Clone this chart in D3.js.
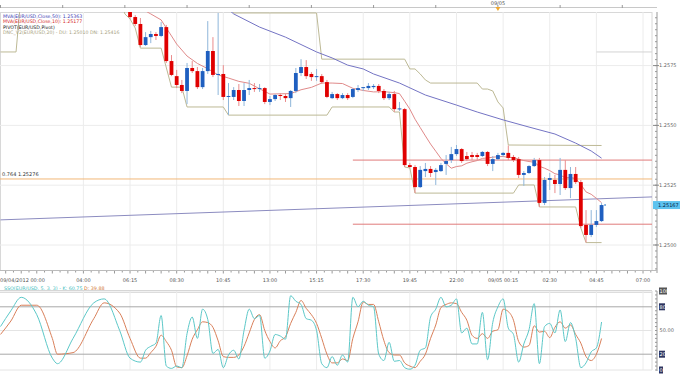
<!DOCTYPE html>
<html><head><meta charset="utf-8">
<script src="https://cdn.jsdelivr.net/npm/d3@7"></script>
<style>html,body{margin:0;padding:0;background:#fff;}svg{display:block;font-family:"DejaVu Sans",sans-serif;}</style>
</head><body><svg id="c" width="680" height="374"></svg>
<script>
// ---------- DATA ----------
const barStart = "2012-09-04T06:15:00Z";
const barMinutes = 15;
const opens  = [1.25991,1.25953,1.25924,1.25836,1.25869,1.25882,1.25874,1.25911,1.25769,1.25706,1.25669,1.25644,1.25740,1.25727,1.25660,1.25727,1.25811,1.25711,1.25715,1.25619,1.25619,1.25648,1.25602,1.25648,1.25656,1.25652,1.25656,1.25598,1.25610,1.25627,1.25623,1.25614,1.25644,1.25719,1.25744,1.25715,1.25702,1.25706,1.25681,1.25614,1.25631,1.25614,1.25627,1.25619,1.25648,1.25656,1.25656,1.25660,1.25665,1.25644,1.25614,1.25631,1.25568,1.25568,1.25334,1.25326,1.25242,1.25309,1.25318,1.25305,1.25309,1.25339,1.25355,1.25380,1.25401,1.25372,1.25376,1.25376,1.25372,1.25389,1.25339,1.25359,1.25376,1.25385,1.25368,1.25359,1.25293,1.25301,1.25330,1.25355,1.25176,1.25272,1.25272,1.25255,1.25314,1.25238,1.25297,1.25263,1.25084,1.25042,1.25084,1.25100];
const highs  = [1.26007,1.25961,1.25949,1.25890,1.25895,1.25890,1.25932,1.25920,1.25794,1.25732,1.25690,1.25761,1.25769,1.25744,1.25740,1.25936,1.25869,1.25970,1.25752,1.25677,1.25660,1.25673,1.25677,1.25690,1.25677,1.25673,1.25660,1.25623,1.25631,1.25635,1.25631,1.25648,1.25740,1.25777,1.25773,1.25723,1.25736,1.25715,1.25690,1.25640,1.25635,1.25635,1.25635,1.25656,1.25669,1.25660,1.25677,1.25673,1.25673,1.25652,1.25640,1.25644,1.25598,1.25573,1.25343,1.25334,1.25330,1.25343,1.25330,1.25322,1.25343,1.25376,1.25410,1.25418,1.25405,1.25389,1.25389,1.25385,1.25393,1.25393,1.25372,1.25385,1.25389,1.25416,1.25376,1.25368,1.25309,1.25334,1.25364,1.25364,1.25284,1.25301,1.25293,1.25364,1.25355,1.25326,1.25326,1.25272,1.25146,1.25146,1.25146,1.25176];
const lows   = [1.25945,1.25915,1.25828,1.25832,1.25844,1.25857,1.25869,1.25761,1.25706,1.25656,1.25635,1.25589,1.25719,1.25652,1.25652,1.25715,1.25702,1.25627,1.25606,1.25543,1.25606,1.25581,1.25581,1.25627,1.25640,1.25640,1.25589,1.25585,1.25602,1.25606,1.25598,1.25577,1.25635,1.25706,1.25694,1.25686,1.25686,1.25673,1.25614,1.25610,1.25606,1.25610,1.25606,1.25614,1.25640,1.25644,1.25648,1.25652,1.25635,1.25606,1.25606,1.25556,1.25560,1.25326,1.25322,1.25217,1.25238,1.25284,1.25284,1.25251,1.25305,1.25293,1.25343,1.25372,1.25343,1.25351,1.25355,1.25355,1.25368,1.25330,1.25309,1.25355,1.25368,1.25355,1.25347,1.25280,1.25247,1.25297,1.25326,1.25159,1.25167,1.25230,1.25217,1.25209,1.25230,1.25196,1.25255,1.25071,1.25010,1.25033,1.25075,1.25096];
const closes = [1.25953,1.25924,1.25836,1.25869,1.25882,1.25874,1.25911,1.25769,1.25711,1.25669,1.25644,1.25740,1.25727,1.25660,1.25727,1.25811,1.25711,1.25715,1.25619,1.25623,1.25648,1.25602,1.25648,1.25656,1.25652,1.25656,1.25598,1.25610,1.25627,1.25623,1.25614,1.25644,1.25719,1.25744,1.25706,1.25702,1.25706,1.25681,1.25619,1.25631,1.25614,1.25627,1.25614,1.25652,1.25656,1.25660,1.25665,1.25665,1.25644,1.25614,1.25631,1.25568,1.25571,1.25334,1.25326,1.25242,1.25314,1.25318,1.25301,1.25314,1.25334,1.25351,1.25380,1.25401,1.25351,1.25359,1.25368,1.25368,1.25389,1.25339,1.25359,1.25376,1.25385,1.25364,1.25355,1.25293,1.25301,1.25330,1.25355,1.25176,1.25272,1.25280,1.25255,1.25314,1.25238,1.25297,1.25263,1.25079,1.25042,1.25084,1.25100,1.25167];

// indicator lines: [bar index, value]
const ma10 = [[2,1.26016],[3,1.25978],[4,1.25966],[6,1.25941],[7,1.25907],[8,1.25874],[9,1.25840],[11,1.25790],[13,1.25759],[15,1.25737],[17,1.25711],[19,1.25698],[21,1.25684],[23,1.25676],[25,1.25653],[27,1.25631],[29,1.25632],[31,1.25633],[33,1.25649],[35,1.25659],[37,1.25677],[39,1.25677],[41,1.25675],[43,1.25655],[45,1.25646],[47,1.25640],[49,1.25641],[51,1.25637],[52,1.25633],[53,1.25601],[54,1.25568],[55,1.25526],[56,1.25491],[57,1.25456],[58,1.25422],[59,1.25392],[60,1.25362],[61,1.25340],[62,1.25321],[63,1.25328],[64,1.25331],[65,1.25342],[66,1.25348],[67,1.25353],[68,1.25362],[69,1.25364],[70,1.25367],[71,1.25369],[72,1.25370],[73,1.25366],[74,1.25366],[75,1.25359],[76,1.25353],[77,1.25349],[78,1.25346],[79,1.25329],[80,1.25321],[81,1.25311],[82,1.25298],[83,1.25293],[84,1.25281],[85,1.25282],[86,1.25278],[87,1.25253],[88,1.25222],[89,1.25212],[90,1.25195],[91,1.25177]];
const ma50 = [[18,1.26003],[20,1.25966],[25,1.25911],[30,1.25869],[36,1.25807],[39,1.25782],[42,1.25752],[45,1.25736],[47,1.25715],[52,1.25677],[57,1.25627],[63,1.25585],[67,1.25556],[72,1.25523],[77,1.25493],[82,1.25464],[86,1.25426],[89,1.25393],[91,1.25363]];
const dncUpper = [[19,1.26007],[20,1.25970],[36,1.25970],[37,1.25777],[53,1.25777],[54,1.25736],[55,1.25736],[56,1.25715],[57,1.25690],[58,1.25677],[67,1.25677],[68,1.25652],[69,1.25652],[70,1.25644],[71,1.25598],[72,1.25573],[73,1.25418],[91,1.25416]];
const dncLowerEarly = [[-25,1.25807],[-22,1.25807],[-21,1.26050]];
const dncLower = [[-2,1.26050],[-1,1.25966],[0,1.25945],[1,1.25907],[2,1.25823],[6,1.25823],[8,1.25660],[10,1.25660],[11,1.25577],[18,1.25577],[19,1.25543],[38,1.25543],[39,1.25577],[50,1.25577],[51,1.25556],[52,1.25556],[53,1.25326],[54,1.25322],[55,1.25217],[74,1.25217],[75,1.25251],[78,1.25251],[79,1.25159],[86,1.25159],[87,1.25071],[88,1.25010],[91,1.25010]];
const trendTimes = ["2012-09-04T00:00:00Z","2012-09-05T07:26:00Z"];
const trendValues = [1.25105, 1.25201];
const pivotStart = "2012-09-04T17:00:00Z";
const pivotLevels = [1.25355, 1.25087];
const fibRatio = "0.764";
const fibPrice = 1.25276;
const upperRefStart = "2012-09-05T04:45:00Z";
const upperRefPrice = 1.25807;
const priceTicks = [1.2500, 1.2525, 1.2550, 1.2575];
const lastPrice = 1.25167;
const tickTimes = ["2012-09-04T00:00:00Z","2012-09-04T04:00:00Z","2012-09-04T06:15:00Z","2012-09-04T08:30:00Z","2012-09-04T10:45:00Z","2012-09-04T13:00:00Z","2012-09-04T15:15:00Z","2012-09-04T17:30:00Z","2012-09-04T19:45:00Z","2012-09-04T22:00:00Z","2012-09-05T00:15:00Z","2012-09-05T02:30:00Z","2012-09-05T04:45:00Z","2012-09-05T07:00:00Z"];
const tickLabels = ["09/04/2012 00:00","04:00","06:15","08:30","10:45","13:00","15:15","17:30","19:45","22:00","09/05 00:15","02:30","04:45","07:00"];
const dayMarkTime = "2012-09-05T00:00:00Z";
const dayMarkLabel = "09/05";
// stochastic (5,3,3): bar index, %K, %D
const stochIdx = [-25,-23,-21,-18,-15,-14,-11,-7,-5,-2,0,2,3,4,5,6,7,8,9,10,11,12,13,14,15,16,17,18,19,20,21,22,23,24,25,26,27,28,29,30,31,32,33,34,35,36,37,38,39,40,41,42,43,44,45,46,47,48,49,50,51,52,53,54,55,56,57,58,59,60,61,62,63,64,65,66,67,68,69,70,71,72,73,74,75,76,77,78,79,80,81,82,83,84,85,86,87,88,89,90,91];
const stochK = [55,75,92,70,15,8,40,85,90,50,15,10,25,30,34,69,5,2,5,3,46,67,40,77,64,21,26,3,19,25,14,50,77,65,69,15,24,45,43,39,94,87,83,65,63,50,8,3,17,6,19,10,92,80,87,82,80,20,12,35,11,12,3,1,6,25,28,67,77,92,80,82,90,47,53,33,33,73,13,60,80,90,53,45,10,33,51,84,8,55,59,47,76,36,60,40,3,9,23,28,60.75];
const stochD = [45,62,82,82,40,20,22,65,85,72,40,15,15,22,30,44,36,25,4,3,18,39,51,61,60,54,37,17,16,16,19,30,47,64,70,50,36,28,37,42,59,73,88,78,70,59,40,20,9,9,14,12,40,61,86,83,83,61,37,22,19,19,9,5,3,11,20,40,57,79,83,85,84,73,63,44,40,46,40,49,51,77,74,63,36,29,31,56,48,49,41,54,61,53,57,45,34,17,12,20,39.88];
const stochTicks = [0, 20, 50, 80, 100];

// ---------- CHART ----------
const svg = d3.select("#c");
const W = 680, plotR = 652, axisX = 657, pTop = 12, pBot = 270;
const sTop = 291, sBot = 370;
const x = d3.scaleUtc().domain([new Date("2012-09-04T00:00:00Z"), new Date("2012-09-05T07:26:00Z")]).range([0.5, plotR]);
const y = d3.scaleLinear().domain([1.2500, 1.2575]).range([245, 65.6]);
const ys = d3.scaleLinear().domain([0, 100]).range([sBot, sTop]);
const t0 = new Date(barStart).getTime();
const barTime = i => new Date(t0 + i * barMinutes * 60000);

const defs = svg.append("defs");
defs.append("clipPath").attr("id","mainClip").append("rect").attr("x",0).attr("y",pTop).attr("width",plotR).attr("height",pBot-pTop);
defs.append("clipPath").attr("id","stClip").append("rect").attr("x",0).attr("y",sTop).attr("width",plotR).attr("height",sBot-sTop);

// top strip
svg.append("line").attr("x1",0).attr("x2",axisX).attr("y1",7.5).attr("y2",7.5).attr("stroke","#c8c8c8");
const topTicks = d3.utcHour.every(3).range(x.domain()[0], x.domain()[1]);
svg.append("g").selectAll("line").data(topTicks).join("line")
  .attr("x1",d=>x(d)).attr("x2",d=>x(d)).attr("y1",5).attr("y2",8).attr("stroke","#999");
svg.append("text").attr("x",x(new Date(dayMarkTime))).attr("y",4.5).attr("text-anchor","middle")
  .attr("font-size",5).attr("fill","#555").text(dayMarkLabel);
const dmx = x(new Date(dayMarkTime));
svg.append("path").attr("d",`M${dmx-2.5},7 L${dmx+2.5},7 L${dmx},11 Z`).attr("fill","#f0a830");

svg.append("rect").attr("x",0.5).attr("y",pTop+0.5).attr("width",plotR-0.5).attr("height",pBot-pTop).attr("fill","none").attr("stroke","#d8d8d8");

// grid
const gridTimes = tickTimes.slice(1).map(d=>new Date(d));
svg.append("g").selectAll("line").data(gridTimes).join("line")
  .attr("x1",d=>x(d)).attr("x2",d=>x(d)).attr("y1",pTop).attr("y2",pBot).attr("stroke","#ececec");
svg.append("g").selectAll("line").data(priceTicks).join("line")
  .attr("x1",0).attr("x2",plotR).attr("y1",d=>y(d)).attr("y2",d=>y(d)).attr("stroke","#ececec");

const main = svg.append("g").attr("clip-path","url(#mainClip)");
main.append("line").attr("x1",0).attr("x2",plotR).attr("y1",y(fibPrice)).attr("y2",y(fibPrice)).attr("stroke","#f2b878").attr("stroke-width",1);
main.selectAll(".pv").data(pivotLevels).join("line").attr("class","pv")
  .attr("x1",x(new Date(pivotStart))).attr("x2",plotR).attr("y1",d=>y(d)).attr("y2",d=>y(d)).attr("stroke","#e07a7a");
main.append("line").attr("x1",x(new Date(upperRefStart))).attr("x2",plotR).attr("y1",y(upperRefPrice)).attr("y2",y(upperRefPrice)).attr("stroke","#d4d4d4");
main.append("line").attr("x1",x(new Date(trendTimes[0]))).attr("x2",x(new Date(trendTimes[1])))
  .attr("y1",y(trendValues[0])).attr("y2",y(trendValues[1])).attr("stroke","#8c8cc0").attr("stroke-width",1);

const lineGen = d3.line().x(d=>x(barTime(d[0]))).y(d=>y(d[1]));
[dncUpper, dncLower, dncLowerEarly].forEach(arr=>
  main.append("path").attr("d",lineGen(arr)).attr("fill","none").attr("stroke","#bdb995").attr("stroke-width",1));
main.append("path").attr("d",lineGen(ma50)).attr("fill","none").attr("stroke","#7474c4").attr("stroke-width",1);
main.append("path").attr("d",lineGen(ma10)).attr("fill","none").attr("stroke","#e08a8a").attr("stroke-width",1);

// candles
const candles = opens.map((o,i)=>({i,o,h:highs[i],l:lows[i],c:closes[i]}));
const cg = main.append("g");
cg.selectAll(".wk").data(candles).join("line").attr("class","wk")
  .attr("x1",d=>x(barTime(d.i))).attr("x2",d=>x(barTime(d.i)))
  .attr("y1",d=>y(d.h)).attr("y2",d=>y(d.l))
  .attr("stroke",d=>d.c>=d.o?"#8fb6da":"#ea8c8c").attr("stroke-width",1);
cg.selectAll(".bd").data(candles).join("rect").attr("class","bd")
  .attr("x",d=>x(barTime(d.i))-1.9).attr("width",3.8)
  .attr("y",d=>y(Math.max(d.o,d.c))).attr("height",d=>Math.max(1,Math.abs(y(d.o)-y(d.c))))
  .attr("fill",d=>d.c>=d.o?"#1f5fc0":"#e00000");
const lastI = candles.length-1;
main.append("circle").attr("cx",x(barTime(lastI))+3.5).attr("cy",y(lastPrice)).attr("r",1).attr("fill","#6aa0d8");

svg.append("text").attr("x",2).attr("y",y(fibPrice)-2.5).attr("font-size",5).attr("fill","#333").text(fibRatio+" "+fibPrice.toFixed(5));

// legend
const legend = [
  {t:`MVA(EUR/USD,Close,50): ${ma50[ma50.length-1][1].toFixed(5)}`, c:"#3c3cb4"},
  {t:`MVA(EUR/USD,Close,10): ${ma10[ma10.length-1][1].toFixed(5)}`, c:"#d42828"},
  {t:`PIVOT(EUR/USD,Pivot)`, c:"#222"},
  {t:`DNC_V2(EUR/USD,20) - DU: ${dncLower[dncLower.length-1][1].toFixed(5)}  DN: ${dncUpper[dncUpper.length-1][1].toFixed(5)}`, c:"#a9a382"}
];
svg.append("g").selectAll("text").data(legend).join("text")
  .attr("x",3).attr("y",(d,i)=>17.5+i*5.6).attr("font-size",4.7).attr("fill",d=>d.c).text(d=>d.t);

// price axis
svg.append("line").attr("x1",axisX).attr("x2",axisX).attr("y1",pTop).attr("y2",pBot+3).attr("stroke","#999");
const minorP = d3.range(1.2490, 1.2600, 0.00025).filter(v=>y(v)>pTop && y(v)<pBot);
svg.append("g").selectAll("line").data(minorP).join("line")
  .attr("x1",axisX-2).attr("x2",axisX).attr("y1",d=>y(d)).attr("y2",d=>y(d)).attr("stroke","#999");
svg.append("g").selectAll("line").data(priceTicks).join("line")
  .attr("x1",axisX-4).attr("x2",axisX+2).attr("y1",d=>y(d)).attr("y2",d=>y(d)).attr("stroke","#888");
svg.append("g").selectAll("text").data(priceTicks).join("text")
  .attr("x",659).attr("y",d=>y(d)+1.8).attr("font-size",5).attr("fill","#666").text(d=>d.toFixed(4));
svg.append("rect").attr("x",axisX-4).attr("y",y(lastPrice)-4).attr("width",W-axisX+4).attr("height",8).attr("fill","#5ec3ef");
svg.append("text").attr("x",658).attr("y",y(lastPrice)+1.8).attr("font-size",5).attr("fill","#02224a").text(lastPrice.toFixed(5));

// time axis
svg.append("line").attr("x1",0).attr("x2",axisX).attr("y1",pBot+0.5).attr("y2",pBot+0.5).attr("stroke","#bbb");
const minorStart = new Date("2012-09-04T06:15:00Z").getTime();
const minorT = d3.range(-16, 90).map(k=>({k, d:new Date(minorStart + k*22.5*60000)})).filter(o=>x(o.d)>=0 && x(o.d)<=plotR);
svg.append("g").selectAll("line").data(minorT).join("line")
  .attr("x1",o=>x(o.d)).attr("x2",o=>x(o.d)).attr("y1",pBot+1).attr("y2",o=>pBot+(Math.abs(o.k)%2?2.5:3.5)).attr("stroke","#999");
svg.append("g").selectAll("text").data(tickTimes).join("text")
  .attr("x",(d,i)=>i===0?0:x(new Date(d))).attr("y",281.5)
  .attr("text-anchor",(d,i)=>i===0?"start":"middle").attr("font-size",5).attr("fill","#555").text((d,i)=>tickLabels[i]);

// stochastic panel
const st = svg.append("text").attr("x",4).attr("y",289.5).attr("font-size",4.8);
st.append("tspan").attr("fill","#3cbcbc").text(`SSO(EUR/USD, 5, 3, 3) - K: ${stochK[stochK.length-1].toFixed(2)}  `);
st.append("tspan").attr("fill","#d0702c").text(`D: ${stochD[stochD.length-1].toFixed(2)}`);
svg.append("line").attr("x1",0).attr("x2",plotR).attr("y1",sTop-0.5).attr("y2",sTop-0.5).attr("stroke","#c8c8c8");
svg.append("line").attr("x1",0).attr("x2",plotR).attr("y1",sTop+1.5).attr("y2",sTop+1.5).attr("stroke","#dddddd");
svg.append("g").selectAll("line").data(gridTimes).join("line")
  .attr("x1",d=>x(d)).attr("x2",d=>x(d)).attr("y1",sTop).attr("y2",sBot).attr("stroke","#ececec");
svg.append("line").attr("x1",plotR).attr("x2",plotR).attr("y1",sTop).attr("y2",sBot).attr("stroke","#d8d8d8");
svg.append("g").selectAll("line").data(stochTicks).join("line")
  .attr("x1",0).attr("x2",plotR).attr("y1",d=>ys(d)).attr("y2",d=>ys(d))
  .attr("stroke",d=>(d===20||d===80)?"#a8a8a8":"#e4e4e4");
svg.append("line").attr("x1",axisX).attr("x2",axisX).attr("y1",sTop).attr("y2",sBot+1).attr("stroke","#999");
const minorS = d3.range(0, 101, 5);
svg.append("g").selectAll("line").data(minorS).join("line")
  .attr("x1",axisX-2).attr("x2",axisX).attr("y1",d=>ys(d)).attr("y2",d=>ys(d)).attr("stroke","#999");
const sg = svg.append("g").attr("clip-path","url(#stClip)");
const sLine = vals => d3.line().x((d,i)=>x(barTime(stochIdx[i]))).y(d=>ys(d)).curve(d3.curveMonotoneX)(vals);
sg.append("path").attr("d",sLine(stochD)).attr("fill","none").attr("stroke","#d9805a").attr("stroke-width",1);
sg.append("path").attr("d",sLine(stochK)).attr("fill","none").attr("stroke","#5cc8c8").attr("stroke-width",1);
const boxed = [100, 80, 20, 0];
svg.append("g").selectAll("rect").data(boxed).join("rect")
  .attr("x",659).attr("y",d=>ys(d)-3.5).attr("width",d=>d===100?8:(d===0?4:6)).attr("height",7)
  .attr("fill",d=>d===100?"#555":"#2e3560");
svg.append("g").selectAll("text").data(stochTicks).join("text")
  .attr("x",659.5).attr("y",d=>ys(d)+1.8).attr("font-size",5)
  .attr("fill",d=>d===50?"#666":"#fff").text(d=>d===50?"50.00":String(d));
</script></body></html>
